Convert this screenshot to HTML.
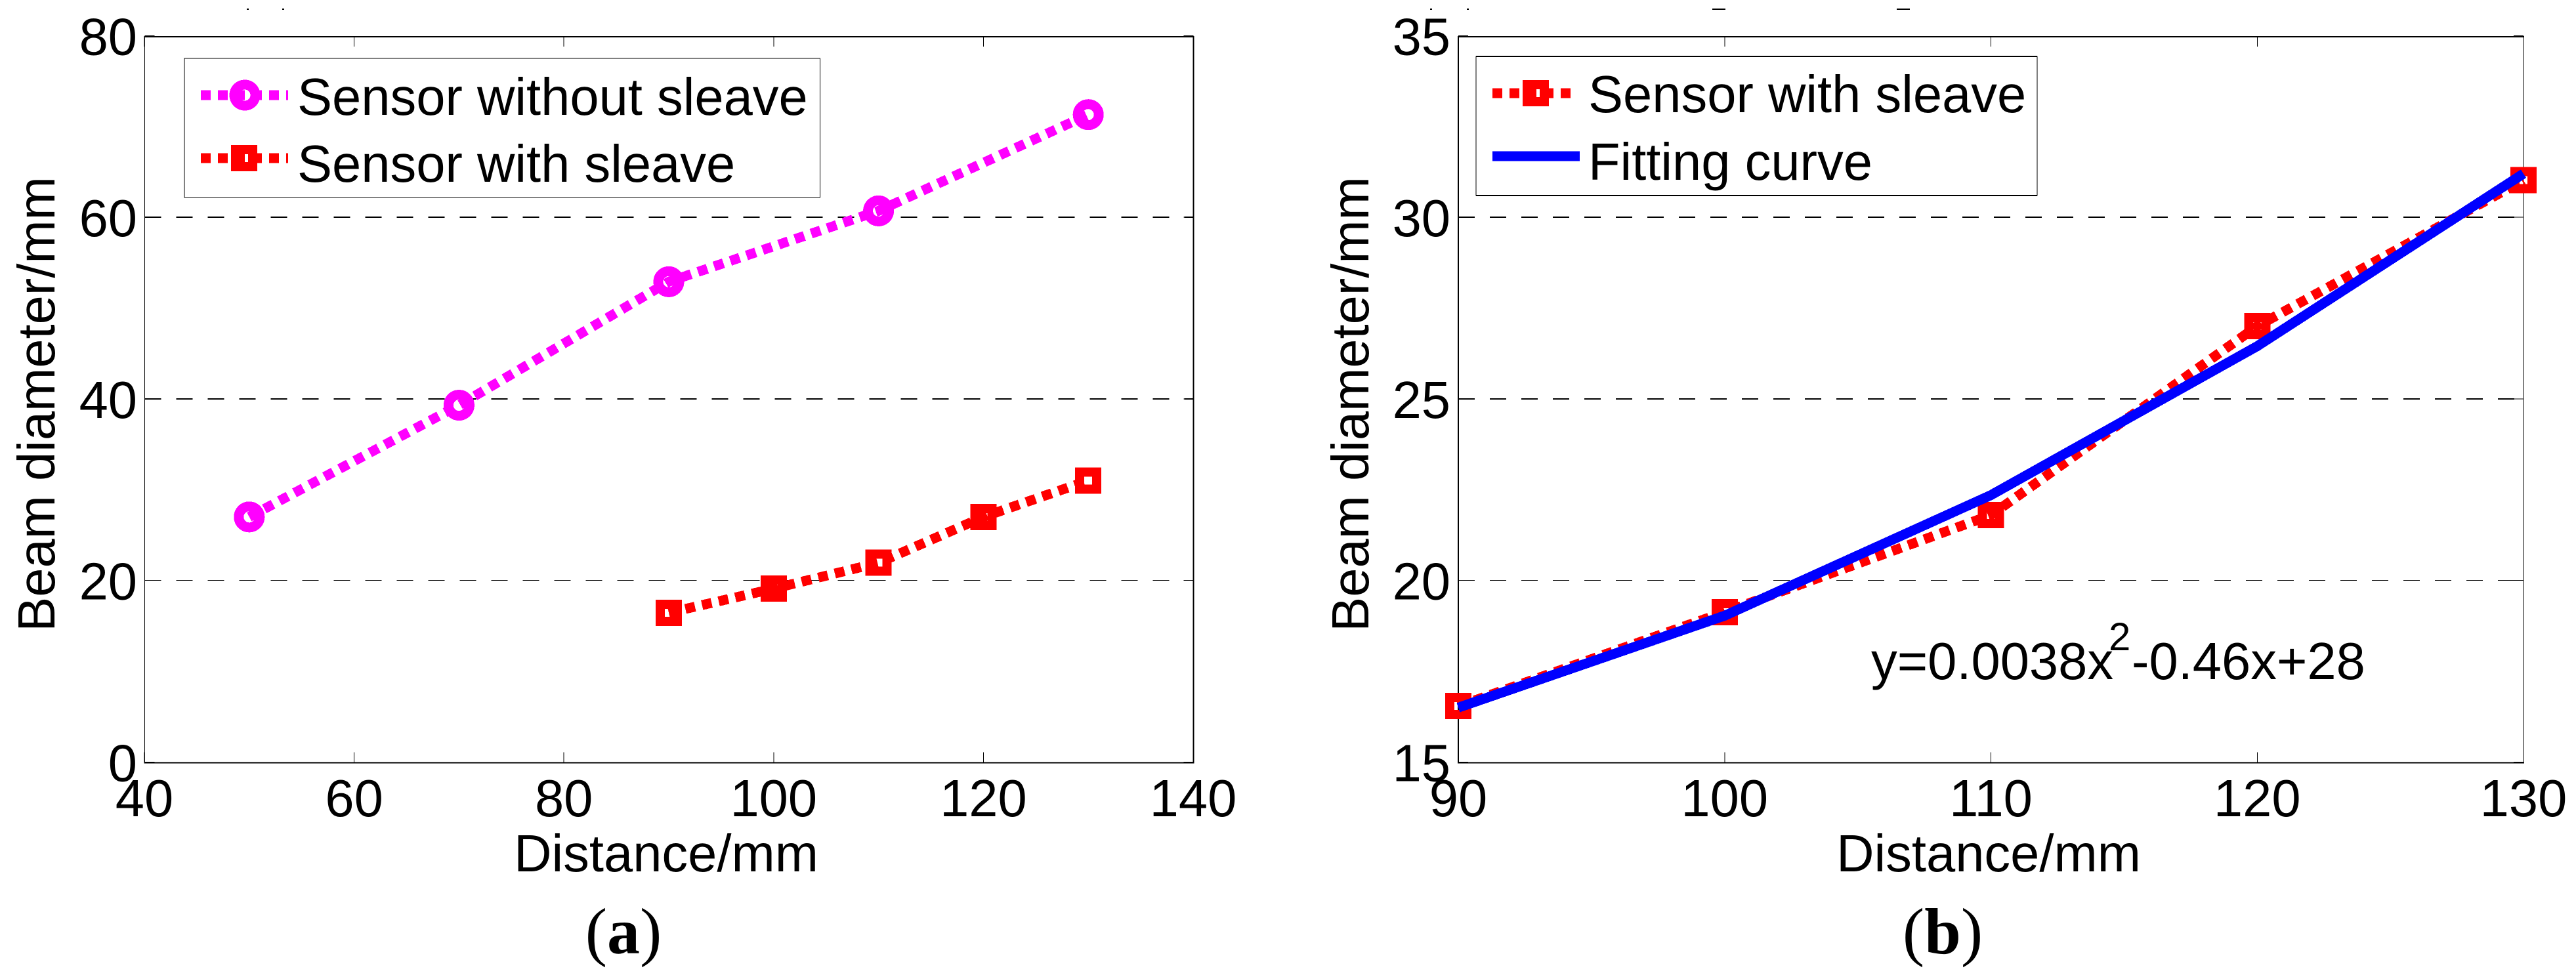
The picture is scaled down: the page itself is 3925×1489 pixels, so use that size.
<!DOCTYPE html>
<html lang="en">
<head>
<meta charset="utf-8">
<title>Beam diameter versus distance</title>
<style>
html,body{margin:0;padding:0;background:#fff;}
svg{display:block;}
text{font-family:"Liberation Sans",Arial,sans-serif;font-size:79.5px;fill:#000;}
.serif{font-family:"Liberation Serif","Times New Roman",serif;font-size:100px;}
.crisp{shape-rendering:crispEdges;}
</style>
</head>
<body>
<svg id="figure" xmlns="http://www.w3.org/2000/svg" width="3925" height="1489" viewBox="0 0 3925 1489">
  <rect x="0" y="0" width="3925" height="1489" fill="#fff"/>

  <g id="panel-a">
    <text transform="translate(83,616) rotate(-90)" text-anchor="middle">Beam diameter/mm</text>
    <text x="1015" y="1328" text-anchor="middle">Distance/mm</text>
    <text class="serif" x="950" y="1453" text-anchor="middle">(<tspan font-weight="bold">a</tspan>)</text>
  </g>

  <g id="panel-b">
    <text transform="translate(2085,616) rotate(-90)" text-anchor="middle">Beam diameter/mm</text>
    <text x="3030" y="1328" text-anchor="middle">Distance/mm</text>
    <text class="serif" x="2960" y="1453" text-anchor="middle">(<tspan font-weight="bold">b</tspan>)</text>
    <text x="2851" y="1035">y=0.0038x<tspan x="3213" y="991" font-size="60">2</tspan><tspan x="3248" y="1035">-0.46x+28</tspan></text>
  </g>

  <g fill="#000">
    <rect x="376" y="13" width="3" height="2"/>
    <rect x="430" y="13" width="3" height="2"/>
    <rect x="2179" y="13" width="3" height="2"/>
    <rect x="2235" y="13" width="3" height="2"/>
    <rect x="2609" y="13" width="20" height="2"/>
    <rect x="2890" y="13" width="20" height="2"/>
  </g>
</svg>

<script>
// Panel (a) data
const distanceWithoutSleeveA = [50, 70, 90, 110, 130];
const diameterWithoutSleeveA = [27, 39.3, 52.9, 60.7, 71.3];
const distanceWithSleeveA = [90, 100, 110, 120, 130];
const diameterWithSleeveA = [16.45, 19.1, 21.95, 27, 31];
const xTickLabelsA = [40, 60, 80, 100, 120, 140];
const yTickLabelsA = [0, 20, 40, 60, 80];
const gridValuesA = [20, 40, 60];

// Panel (b) data
const distanceWithSleeveB = [90, 100, 110, 120, 130];
const diameterWithSleeveB = [16.54, 19.13, 21.8, 27, 31.02];
const distanceFitB = [90, 100, 110, 120, 130];
const diameterFitB = [16.5, 19.03, 22.35, 26.45, 31.2];
const xTickLabelsB = [90, 100, 110, 120, 130];
const yTickLabelsB = [15, 20, 25, 30, 35];
const gridValuesB = [20, 25, 30];

// Legend labels
const legendLabelsA = ['Sensor without sleave', 'Sensor with sleave'];
const legendLabelsB = ['Sensor with sleave', 'Fitting curve'];

// Axis functions
function xA(v) { return 220 + (v - 40) * 15.98; }
function yA(v) { return 1161.5 - v * 13.84; }
function xB(v) { return 2222 + (v - 90) * 40.575; }
function yB(v) { return 1161.5 - (v - 15) * 55.36; }

const SVG_NS = 'http://www.w3.org/2000/svg';
const figure = document.getElementById('figure');
const panelA = document.getElementById('panel-a');
const panelB = document.getElementById('panel-b');

function make(parent, tag, props) {
  const el = document.createElementNS(SVG_NS, tag);
  for (const k in props) el.setAttribute(k, props[k]);
  parent.appendChild(el);
  return el;
}

function drawFrame(parent, box, widths) {
  const sides = [
    ['frame-top', box.left, box.top, box.right, box.top, widths.top],
    ['frame-bottom', box.left, box.bottom, box.right, box.bottom, widths.bottom],
    ['frame-left', box.left, box.top, box.left, box.bottom, widths.left],
    ['frame-right', box.right, box.top, box.right, box.bottom, widths.right]
  ];
  sides.forEach(function (s) {
    const line = make(parent, 'line', { x1: s[1], y1: s[2], x2: s[3], y2: s[4], stroke: '#000', 'stroke-width': s[5], 'stroke-linecap': 'square', class: 'crisp' });
    
    
  });
}

function drawGrid(parent, values, yFn, box) {
  values.forEach(function (v, i) {
    const line = make(parent, 'line', { x1: box.left, y1: yFn(v), x2: box.right, y2: yFn(v), stroke: '#000', 'stroke-width': i === 0 ? 1 : 2, 'stroke-dasharray': '25 23', class: 'crisp' });
    
    
  });
}

function drawTicks(parent, xTicks, yTicks, xFn, yFn, box, labelRight) {
  xTicks.forEach(function (v) {
    const x = xFn(v);
    const bottomTick = make(parent, 'line', { x1: x, y1: box.bottom, x2: x, y2: box.bottom - 16, stroke: '#000', 'stroke-width': 1, class: 'crisp' });
    
    
    const topTick = make(parent, 'line', { x1: x, y1: box.top, x2: x, y2: box.top + 15, stroke: '#000', 'stroke-width': 1, class: 'crisp' });
    
    
    const label = make(parent, 'text', { x: x, y: 1244, 'text-anchor': 'middle' });
    label.textContent = String(v);
    
    
  });
  yTicks.forEach(function (v) {
    const y = yFn(v);
    const leftTick = make(parent, 'line', { x1: box.left, y1: y, x2: box.left + 15, y2: y, stroke: '#000', 'stroke-width': 1, class: 'crisp' });
    
    
    const rightTick = make(parent, 'line', { x1: box.right, y1: y, x2: box.right - 15, y2: y, stroke: '#000', 'stroke-width': 1, class: 'crisp' });
    
    
    const label = make(parent, 'text', { x: labelRight, y: y + 29, 'text-anchor': 'end' });
    label.textContent = String(v);
    
    
  });
}

function drawDashedLine(parent, xs, ys, xFn, yFn, color, name) {
  const pts = xs.map(function (x, i) { return xFn(x) + ',' + yFn(ys[i]); }).join(' ');
  const line = make(parent, 'polyline', { points: pts, fill: 'none', stroke: color, 'stroke-width': 15, 'stroke-dasharray': '15 11', class: 'crisp' });
  
  
}

function drawSolidLine(parent, xs, ys, xFn, yFn, color, name) {
  const pts = xs.map(function (x, i) { return xFn(x) + ',' + yFn(ys[i]); }).join(' ');
  const line = make(parent, 'polyline', { points: pts, fill: 'none', stroke: color, 'stroke-width': 15, 'stroke-linejoin': 'round', class: 'crisp' });
  
  
}

function squareMarker(parent, cx, cy, name) {
  const m = make(parent, 'rect', { x: cx - 13, y: cy - 13, width: 26, height: 26, fill: 'none', stroke: '#f00', 'stroke-width': 14, class: 'crisp' });
  
  
}

function circleMarker(parent, cx, cy, name) {
  const m = make(parent, 'circle', { cx: cx, cy: cy, r: 16, fill: 'none', stroke: '#f0f', 'stroke-width': 15, class: 'crisp' });
  
  
}

function drawLegendBox(parent, box, name, topWidth) {
  const bg = make(parent, 'rect', { x: box.left, y: box.top, width: box.right - box.left, height: box.bottom - box.top, fill: '#fff', stroke: '#000', 'stroke-width': 1, class: 'crisp' });
  
  
  [box.top, box.bottom].forEach(function (y) {
    const edge = make(parent, 'line', { x1: box.left, y1: y, x2: box.right, y2: y, stroke: '#000', 'stroke-width': topWidth, class: 'crisp' });
    
    
  });
}

function legendLabel(parent, x, y, label) {
  const t = make(parent, 'text', { x: x, y: y });
  t.textContent = label;
  
  
}

function legendDash(parent, x1, x2, y, color) {
  const l = make(parent, 'line', { x1: x1, y1: y, x2: x2, y2: y, stroke: color, 'stroke-width': 15, 'stroke-dasharray': '15 11', class: 'crisp' });
  
  
}

/* Panel (a) */
const boxA = { left: 220.5, right: 1818.5, top: 56, bottom: 1162.5 };
drawGrid(panelA, gridValuesA, yA, boxA);
drawTicks(panelA, xTickLabelsA, yTickLabelsA, xA, yA, boxA, 209);
drawFrame(panelA, boxA, { top: 2, bottom: 2, left: 1, right: 2 });
distanceWithoutSleeveA.forEach(function (x, i) {
  circleMarker(panelA, xA(x), yA(diameterWithoutSleeveA[i]), 'without-sleeve-point-' + x);
});
drawDashedLine(panelA, distanceWithoutSleeveA, diameterWithoutSleeveA, xA, yA, '#f0f', 'series-without-sleeve-line');
distanceWithSleeveA.forEach(function (x, i) {
  squareMarker(panelA, xA(x), yA(diameterWithSleeveA[i]), 'with-sleeve-point-' + x);
});
drawDashedLine(panelA, distanceWithSleeveA, diameterWithSleeveA, xA, yA, '#f00', 'series-with-sleeve-line');

const legendGroupA = make(panelA, 'g', {});


drawLegendBox(legendGroupA, { left: 281, right: 1249.5, top: 89, bottom: 301 }, 'legend-a-box', 1);
circleMarker(legendGroupA, 373, 145, 'legend-a-circle-marker');
legendDash(legendGroupA, 306, 439, 145, '#f0f');
legendLabel(legendGroupA, 453, 175, legendLabelsA[0]);
squareMarker(legendGroupA, 372, 241, 'legend-a-square-marker');
legendDash(legendGroupA, 306, 439, 241, '#f00');
legendLabel(legendGroupA, 453, 277, legendLabelsA[1]);

/* Panel (b) */
const boxB = { left: 2222, right: 3845, top: 56, bottom: 1162.5 };
drawGrid(panelB, gridValuesB, yB, boxB);
drawTicks(panelB, xTickLabelsB, yTickLabelsB, xB, yB, boxB, 2210);
drawFrame(panelB, boxB, { top: 2, bottom: 2, left: 2, right: 1 });
distanceWithSleeveB.forEach(function (x, i) {
  squareMarker(panelB, xB(x), yB(diameterWithSleeveB[i]), 'with-sleeve-b-point-' + x);
});
drawDashedLine(panelB, distanceWithSleeveB, diameterWithSleeveB, xB, yB, '#f00', 'series-with-sleeve-line-b');
drawSolidLine(panelB, distanceFitB, diameterFitB, xB, yB, '#00f', 'series-fitting-curve');

const legendGroupB = make(panelB, 'g', {});


drawLegendBox(legendGroupB, { left: 2249, right: 3104, top: 86, bottom: 298 }, 'legend-b-box', 2);
squareMarker(legendGroupB, 2340, 142, 'legend-b-square-marker');
legendDash(legendGroupB, 2274, 2394, 142, '#f00');
legendLabel(legendGroupB, 2420, 171, legendLabelsB[0]);
const legendBlue = make(legendGroupB, 'line', { x1: 2274, y1: 238, x2: 2407, y2: 238, stroke: '#00f', 'stroke-width': 15, class: 'crisp' });


legendLabel(legendGroupB, 2420, 274, legendLabelsB[1]);
</script>
</body>
</html>
